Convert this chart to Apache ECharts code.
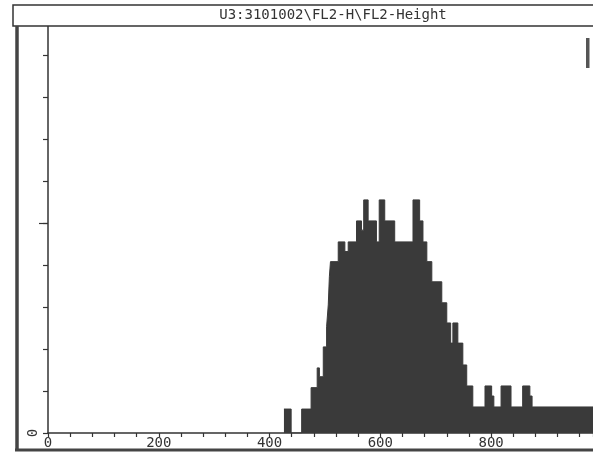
<!DOCTYPE html>
<html>
<head>
<meta charset="utf-8">
<script src="https://cdn.jsdelivr.net/npm/echarts@6/dist/echarts.min.js"></script>
<style>
html,body{margin:0;padding:0;background:#fff;}
#chart{width:593px;height:454px;}
</style>
</head>
<body>
<div id="chart"></div>
<script>
// Histogram bin start edges (FL2-Height channel) and counts held from each edge to the next
const binEdges = [426,439,458,475,486,490,497,503,506,508,510,524,536,542,557,566,570,578,593,598,608,626,659,671,677,684,693,711,720,727,731,740,749,756,767,789,801,805,818,836,857,870,874,1000];
const binCounts = [5.7,0,5.7,10.8,15.5,13.4,20.5,25.3,30.5,37.2,40.8,45.5,43.2,45.5,50.5,48.3,55.5,50.5,45.5,55.5,50.5,45.5,55.5,50.5,45.5,40.8,36.0,31.0,26.2,21.4,26.2,21.4,16.2,11.2,6.2,11.2,8.8,6.2,11.2,6.2,11.2,8.8,6.2];
const xTickLabels = [0,200,400,600,800];
const yTickLabels = [0];
const titleText = 'U3:3101002\\FL2-H\\FL2-Height';

const seriesData = binEdges.map((e, i) => [e, i < binCounts.length ? binCounts[i] : binCounts[binCounts.length - 1]]);

const mono = '"DejaVu Sans Mono", "Liberation Mono", monospace';
const ink = '#333';
const chart = echarts.init(document.getElementById('chart'), null, {renderer: 'canvas'});
chart.setOption({
  animation: false,
  backgroundColor: '#fff',
  grid: {left: 48, top: 13, bottom: 21, right: 0},
  xAxis: {
    type: 'value', min: 0, max: 984, interval: 40,
    axisLine: {show: true, onZero: false, lineStyle: {color: ink, width: 1.5}},
    axisTick: {show: true, inside: false, length: 4, lineStyle: {color: ink, width: 1.2}},
    axisLabel: {customValues: xTickLabels, margin: 3, fontFamily: mono, fontSize: 14, color: ink},
    splitLine: {show: false}
  },
  yAxis: [{
    type: 'value', min: 0, max: 100, interval: 10,
    axisLine: {show: true, lineStyle: {color: ink, width: 1.5}},
    axisTick: {show: true, inside: false, length: 5, lineStyle: {color: ink, width: 1.2}},
    axisLabel: {customValues: yTickLabels, rotate: 90, margin: 8, fontFamily: mono, fontSize: 14, color: ink},
    splitLine: {show: false}
  }, {
    type: 'value', min: 0, max: 100, interval: 50, position: 'left',
    axisLine: {show: false},
    axisTick: {show: true, customValues: [50], inside: false, length: 9, lineStyle: {color: ink, width: 1.2}},
    axisLabel: {show: false},
    splitLine: {show: false}
  }],
  series: [{
    type: 'line',
    step: 'end',
    data: seriesData,
    symbol: 'none',
    clip: true,
    lineStyle: {color: '#3a3a3a', width: 1},
    areaStyle: {color: '#3a3a3a', opacity: 1},
    z: 2
  }],
  graphic: [
    {type: 'rect', z: 100, shape: {x: 13, y: 5, width: 600, height: 21},
     style: {fill: '#fff', stroke: ink, lineWidth: 1.5}},
    {type: 'text', z: 101, x: 333, y: 15.5,
     style: {text: titleText, font: '14px ' + mono, fill: ink, align: 'center', verticalAlign: 'middle'}},
    {type: 'line', z: 100, shape: {x1: 17, y1: 26, x2: 17, y2: 451},
     style: {stroke: '#444', lineWidth: 3.5}},
    {type: 'line', z: 100, shape: {x1: 15, y1: 450, x2: 593, y2: 450},
     style: {stroke: '#444', lineWidth: 3}},
    {type: 'rect', z: 100, shape: {x: 586, y: 38, width: 3.5, height: 30},
     style: {fill: '#555'}}
  ]
});
</script>
</body>
</html>
